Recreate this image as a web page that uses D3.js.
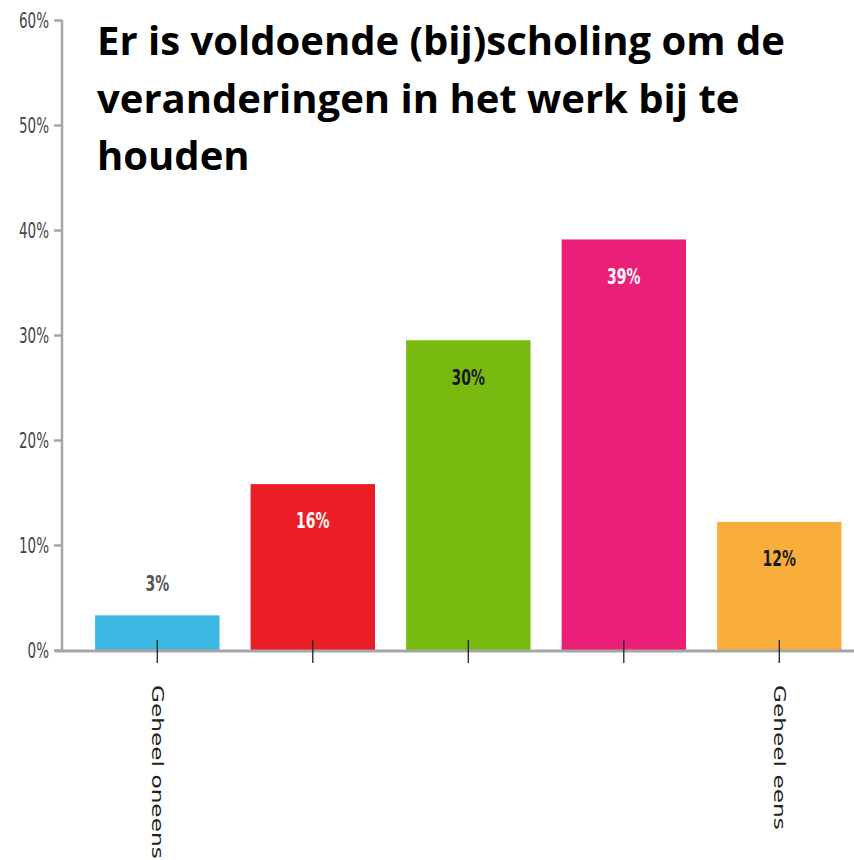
<!DOCTYPE html>
<html><head><meta charset="utf-8">
<script src="https://cdn.jsdelivr.net/npm/d3@7"></script>
<style>body{margin:0;background:#fff}svg{display:block}</style>
</head><body>
<svg id="c" width="854" height="860"></svg>
<script>
const categories = ["Geheel oneens", "", " ", "  ", "Geheel eens"];
const values = [3.3, 15.8, 29.5, 39.1, 12.2];
const valueLabels = ["3%", "16%", "30%", "39%", "12%"];
const colors = ["#3cb8e3", "#ec1e25", "#79ba11", "#ec1f78", "#f9ad3b"];
const labelColors = ["#555", "#fff", "#1a1a1a", "#fff", "#1a1a1a"];
const yTicks = [0, 10, 20, 30, 40, 50, 60];
const titleLines = ["Er is voldoende (bij)scholing om de", "veranderingen in het werk bij te", "houden"];

const svg = d3.select("#c");
const x0 = 62, y0 = 650, yTop = 20;
const x = d3.scaleBand().domain(categories).range([64, 872.6]).paddingInner(0.2).paddingOuter(0.2);
const y = d3.scaleLinear().domain([0, 60]).range([y0, yTop]);

// bars
svg.append("g").selectAll("rect").data(values).join("rect")
  .attr("x", (d, i) => x(categories[i]))
  .attr("width", x.bandwidth())
  .attr("y", d => y(d))
  .attr("height", d => y0 - y(d))
  .attr("fill", (d, i) => colors[i]);

// y axis
const yAxis = svg.append("g").attr("transform", `translate(${x0},0)`)
  .call(d3.axisLeft(y).tickValues(yTicks).tickFormat(d => d + "%").tickSize(8).tickPadding(4));
yAxis.select(".domain").attr("stroke", "#a6a6a6").attr("stroke-width", 2.5).attr("d", `M0,${yTop}V${y0}`);
yAxis.selectAll(".tick line").attr("stroke", "#a6a6a6").attr("stroke-width", 2.5);
yAxis.selectAll(".tick text").attr("fill", "#444")
  .attr("x", 0).attr("dy", "0.36em")
  .attr("transform", "translate(-13,0) scale(1,1.4)")
  .style("font-family", "'Liberation Sans Narrow','DejaVu Sans Condensed',sans-serif").style("font-size", "15px");

// x axis line
svg.append("line").attr("x1", 55).attr("x2", 854).attr("y1", y0 + 1).attr("y2", y0 + 1)
  .attr("stroke", "#a6a6a6").attr("stroke-width", 3);

// x axis ticks + labels
const xAxis = svg.append("g").attr("transform", `translate(0,${y0 - 10})`)
  .call(d3.axisBottom(x).tickSize(23).tickFormat(""));
xAxis.select(".domain").remove();
xAxis.selectAll(".tick line").attr("stroke", "#222").attr("stroke-width", 1.3);

svg.append("g").selectAll("text").data(categories).join("text")
  .attr("transform", (d, i) => `translate(${x(d) + x.bandwidth() / 2},685) rotate(90) scale(1.55,1)`)
  .attr("dy", "0.35em")
  .attr("fill", "#222")
  .style("font-family", "'DejaVu Sans',sans-serif").style("font-size", "15px")
  .text(d => d.trim());

// value labels
svg.append("g").selectAll("text").data(values).join("text")
  .attr("transform", (d, i) => `translate(${x(categories[i]) + x.bandwidth() / 2},${i === 0 ? y(d) - 32 : y(d) + 37}) scale(1,1.35)`)
  .attr("dy", "0.35em")
  .attr("text-anchor", "middle")
  .attr("fill", (d, i) => labelColors[i])
  .style("font-family", "'Liberation Sans Narrow','DejaVu Sans Condensed',sans-serif")
  .style("font-weight", "bold").style("font-size", "15.5px")
  .text((d, i) => valueLabels[i]);

// title
const title = svg.append("g").selectAll("text").data(titleLines).join("text")
  .attr("x", 97)
  .attr("y", (d, i) => 55 + i * 57.5)
  .attr("fill", "#000")
  .style("font-family", "'Open Sans','Noto Sans',sans-serif")
  .style("font-weight", "bold").style("font-size", "34px")
  .text(d => d);
const w = title.nodes()[0].getComputedTextLength();
const fs = 34 * 688 / w;
title.style("font-size", fs + "px");
</script>
</body></html>
